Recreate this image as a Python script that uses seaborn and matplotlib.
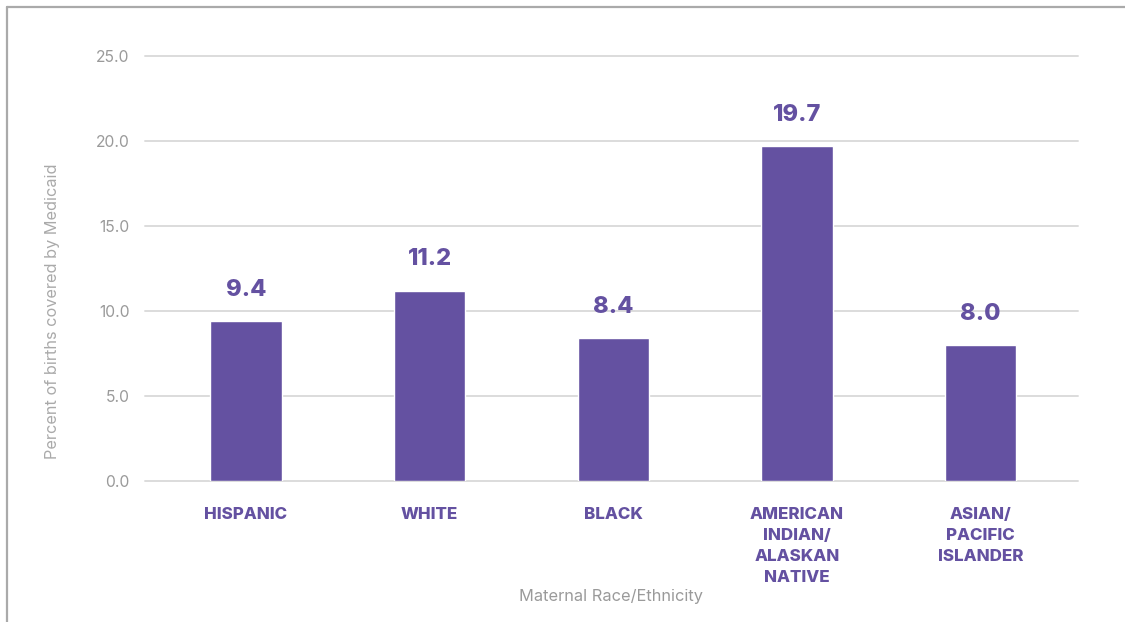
import matplotlib
matplotlib.use("Agg")
import matplotlib.pyplot as plt
from matplotlib.lines import Line2D
from matplotlib.ticker import FormatStrFormatter
import seaborn as sns
import pandas as pd

categories = ["HISPANIC", "WHITE", "BLACK", "AMERICAN\nINDIAN/\nALASKAN\nNATIVE", "ASIAN/\nPACIFIC\nISLANDER"]
values = [9.4, 11.2, 8.4, 19.7, 8.0]
y_ticks = [0, 5, 10, 15, 20, 25]

PURPLE = "#6451A1"
GRAY_TXT = "#9a9a9a"

sns.set_theme(style="white")
plt.rcParams["font.family"] = ["Inter", "DejaVu Sans"]

df = pd.DataFrame({"cat": categories, "val": values})

fig = plt.figure(figsize=(11.25, 6.22), dpi=100)
ax = fig.add_axes([0.1289, 0.2267, 0.9582 - 0.1289, 0.91 - 0.2267])

sns.barplot(data=df, x="cat", y="val", color=PURPLE, saturation=1, width=0.39, ax=ax, zorder=3)

ax.set_ylim(0, 25)
ax.set_xlim(-0.55, 4.53)
ax.set_yticks(y_ticks)
ax.yaxis.set_major_formatter(FormatStrFormatter("%.1f"))
ax.grid(axis="y", color="#dcdcdc", linewidth=1.4, zorder=0)
ax.grid(axis="x", visible=False)
for gl in ax.get_ygridlines():
    gl.set_clip_on(False)
for s in ax.spines.values():
    s.set_visible(False)

ax.tick_params(axis="y", length=0, pad=11, labelsize=11.3, labelcolor=GRAY_TXT)
ax.tick_params(axis="x", length=0, pad=18.5)
for lab in ax.get_xticklabels():
    lab.set_fontweight(800)
    lab.set_fontsize(12.2)
    lab.set_color(PURPLE)
    lab.set_linespacing(1.5)
    lab.set_horizontalalignment("center")
    lab.set_multialignment("center")

for bar, v in zip(ax.patches, values):
    ax.annotate(f"{v:.1f}", xy=(bar.get_x() + bar.get_width() / 2, bar.get_height()),
                xytext=(0, 14.5), textcoords="offset points", ha="center", va="bottom",
                fontsize=17, fontweight=800, color=PURPLE)

ax.set_xlabel("Maternal Race/Ethnicity", fontsize=11.8, color=GRAY_TXT)
ax.set_ylabel("Percent of births covered by Medicaid", fontsize=11.7, color="#aaaaaa")
ax.xaxis.set_label_coords(0.5, -0.255)
ax.yaxis.set_label_coords(-0.091, 0.40)

# frame lines at top and left of the image
fig.add_artist(Line2D([7 / 1125, 1.0], [1 - 7 / 622, 1 - 7 / 622], transform=fig.transFigure,
                      color="#aaaaaa", linewidth=1.6))
fig.add_artist(Line2D([7 / 1125, 7 / 1125], [0, 1 - 7 / 622], transform=fig.transFigure,
                      color="#aaaaaa", linewidth=1.6))

fig.savefig("out.png", dpi=100, facecolor="white")
